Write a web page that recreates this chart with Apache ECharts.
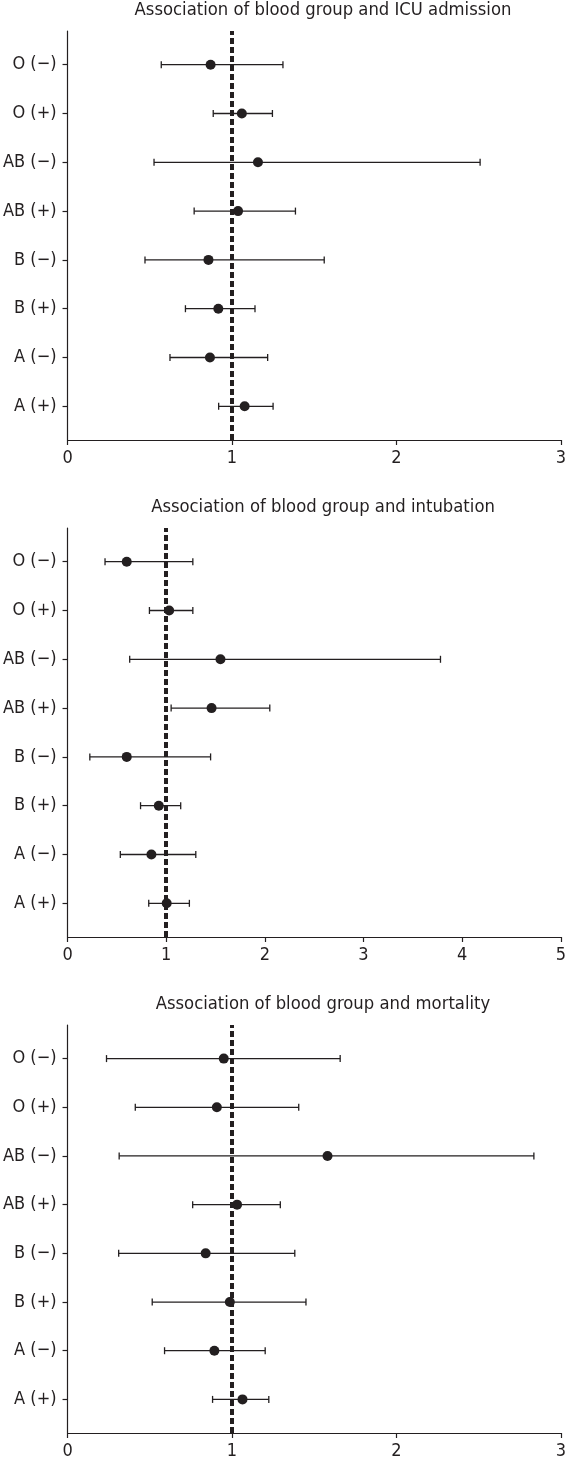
<!DOCTYPE html>
<html>
<head>
<meta charset="utf-8">
<script src="https://cdn.jsdelivr.net/npm/echarts@6/dist/echarts.min.js"></script>
<style>
html,body{margin:0;padding:0;background:#fff;}
#chart{width:569px;height:1460px;}
</style>
</head>
<body>
<div id="chart"></div>
<script>
// Categories, bottom to top
const categories = ['A (+)', 'A (\u2212)', 'B (+)', 'B (\u2212)', 'AB (+)', 'AB (\u2212)', 'O (+)', 'O (\u2212)'];

const titles = [
  'Association of blood group and ICU admission',
  'Association of blood group and intubation',
  'Association of blood group and mortality'
];

// Panel 1: ICU admission
const icuOR    = [1.077, 0.866, 0.917, 0.857, 1.037, 1.158, 1.060, 0.870];
const icuLower = [0.919, 0.623, 0.717, 0.471, 0.770, 0.526, 0.886, 0.570];
const icuUpper = [1.250, 1.217, 1.140, 1.561, 1.386, 2.509, 1.246, 1.310];

// Panel 2: intubation
const intOR    = [1.005, 0.850, 0.925, 0.600, 1.460, 1.550, 1.030, 0.600];
const intLower = [0.823, 0.535, 0.740, 0.226, 1.050, 0.630, 0.830, 0.380];
const intUpper = [1.235, 1.300, 1.147, 1.450, 2.050, 3.780, 1.270, 1.270];

// Panel 3: mortality
const morOR    = [1.064, 0.893, 0.987, 0.840, 1.031, 1.581, 0.908, 0.950];
const morLower = [0.882, 0.590, 0.515, 0.311, 0.761, 0.314, 0.412, 0.237];
const morUpper = [1.224, 1.202, 1.450, 1.382, 1.294, 2.836, 1.406, 1.658];

// X-axis ranges per panel
const xMaxes = [3, 5, 3];
const refValue = 1;

const panels = [
  {or: icuOR, lo: icuLower, hi: icuUpper},
  {or: intOR, lo: intLower, hi: intUpper},
  {or: morOR, lo: morLower, hi: morUpper}
];

const INK = '#231f20';
const FONT = '"DejaVu Sans Condensed", "DejaVu Sans", sans-serif';
const gridTops = [31, 528, 1025];
const gridH = 409;
const catIdx = categories.map((c, k) => k);

const option = {
  backgroundColor: '#fff',
  animation: false,
  title: titles.map((t, i) => ({
    text: t,
    left: 318,
    top: gridTops[i] - 35,
    textAlign: 'center',
    textStyle: {fontFamily: FONT, fontSize: 18.3, fontWeight: 'normal', color: INK}
  })),
  grid: gridTops.map(t => ({left: 67, right: 4, top: t, height: gridH})),
  xAxis: xMaxes.map((m, i) => ({
    type: 'value', gridIndex: i, min: 0, max: m, interval: 1,
    splitLine: {show: false},
    axisLine: {show: true, onZero: false, lineStyle: {color: INK, width: 1.2}},
    axisTick: {show: true, length: 5, lineStyle: {color: INK, width: 1.2}},
    axisLabel: {fontFamily: FONT, fontSize: 18, color: INK, margin: 9}
  })),
  yAxis: xMaxes.map((m, i) => ({
    type: 'value', gridIndex: i, min: -0.69, max: 7.69,
    splitLine: {show: false},
    axisLine: {show: true, onZero: false, lineStyle: {color: INK, width: 1.2}},
    axisTick: {show: true, length: 5, customValues: catIdx, lineStyle: {color: INK, width: 1.2}},
    axisLabel: {
      fontFamily: FONT, fontSize: 18, color: INK, margin: 11,
      customValues: catIdx,
      formatter: v => categories[Math.round(v)]
    }
  })),
  series: []
};

panels.forEach((p, i) => {
  // error bars
  option.series.push({
    type: 'custom', xAxisIndex: i, yAxisIndex: i, z: 2, silent: true,
    data: categories.map((c, k) => [p.lo[k], p.hi[k], k]),
    renderItem: (params, api) => {
      const a = api.coord([api.value(0), api.value(2)]);
      const b = api.coord([api.value(1), api.value(2)]);
      const h = 3.5;
      const style = {stroke: INK, lineWidth: 1.3};
      return {type: 'group', children: [
        {type: 'line', shape: {x1: a[0], y1: a[1], x2: b[0], y2: b[1]}, style},
        {type: 'line', shape: {x1: a[0], y1: a[1] - h, x2: a[0], y2: a[1] + h}, style},
        {type: 'line', shape: {x1: b[0], y1: b[1] - h, x2: b[0], y2: b[1] + h}, style}
      ]};
    }
  });
  // reference line
  option.series.push({
    type: 'line', xAxisIndex: i, yAxisIndex: i, z: 3, data: [], silent: true,
    markLine: {
      silent: true, symbol: ['none', 'none'], label: {show: false},
      lineStyle: {color: INK, width: 4, type: [6, 3]},
      data: [{xAxis: refValue}]
    }
  });
  // points
  option.series.push({
    type: 'scatter', xAxisIndex: i, yAxisIndex: i, z: 4, silent: true,
    symbol: 'circle', symbolSize: 10,
    itemStyle: {color: INK, opacity: 1},
    data: categories.map((c, k) => [p.or[k], k])
  });
});

const chart = echarts.init(document.getElementById('chart'), null, {renderer: 'canvas'});
chart.setOption(option);
</script>
</body>
</html>
